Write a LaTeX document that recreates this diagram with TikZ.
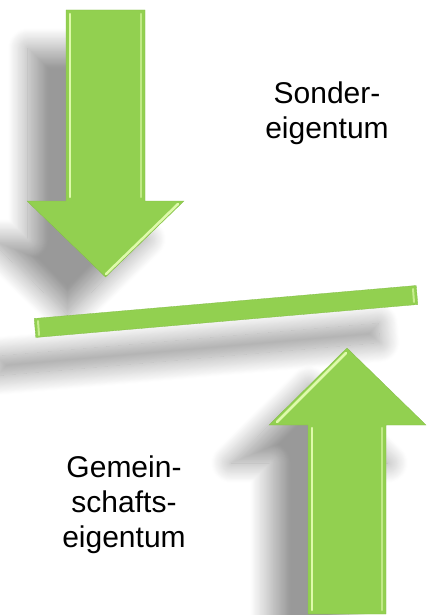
\documentclass[tikz,border=0pt]{standalone}
\usepackage{fontspec}
\setmainfont{Liberation Sans}
\usetikzlibrary{shadows.blur}
\definecolor{arrowgreen}{RGB}{146,208,80}
\definecolor{glint}{RGB}{222,250,170}
\tikzset{greenpart/.style={fill=arrowgreen, draw=arrowgreen!90!black, line width=0.3pt,
  blur shadow={shadow xshift=-38pt, shadow yshift=-38pt, shadow blur radius=20pt,
  shadow opacity=40, shadow blur steps=24}}}
\tikzset{bevel/.style={draw=glint, line width=2.5pt, line cap=round}}
\tikzset{label/.style={align=center, inner sep=0pt, anchor=north,
  font=\fontsize{30}{35}\selectfont}}

\begin{document}
\begin{tikzpicture}[x=1pt, y=-1pt]
\useasboundingbox (0,0) rectangle (430,615);

% down arrow
\path[greenpart] (66,10) -- (145,10) -- (145,201) -- (184,201) -- (105.5,277)
  -- (27,201) -- (66,201) -- cycle;
\draw[bevel] (70,14) -- (70,197);
\draw[bevel, glint!60!arrowgreen] (141,14) -- (141,197);
\draw[bevel] (178,204) -- (106,274);

% bar
\path[greenpart] (34.2,318.5) -- (416.2,285.5) -- (417.8,304.5) -- (35.8,337.5) -- cycle;
\draw[bevel, line width=2pt, glint!70!arrowgreen] (38,321) -- (39,335);
\draw[bevel, line width=2pt, glint!70!arrowgreen] (413,289) -- (414,302);

% up arrow
\path[greenpart] (308,614) -- (308,425) -- (269,425) -- (347,348) -- (426,425)
  -- (386,425) -- (386,614) -- cycle;
\draw[bevel] (277,422) -- (346,353);
\draw[bevel] (312,428) -- (312,610);
\draw[bevel, glint!60!arrowgreen] (382,428) -- (382,610);

% texts
\node[label] (sonder) at (327,82) {Sonder-\\eigentum};
\node[label] (gemein) at (124,456) {Gemein-\\schafts-\\eigentum};
\end{tikzpicture}
\end{document}
